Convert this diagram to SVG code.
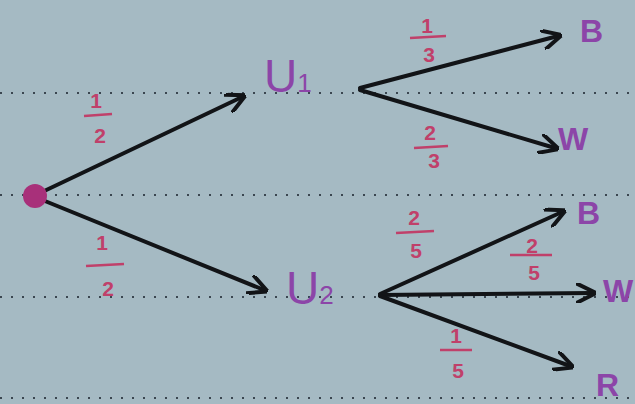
<svg xmlns="http://www.w3.org/2000/svg" width="635" height="404" viewBox="0 0 635 404">
<style>
.dot{stroke:#3a4650;stroke-width:2.2;stroke-dasharray:2 9;}
.br{stroke:#121417;stroke-width:4;fill:none;stroke-linecap:round;}
.fr{fill:#c0406a;font-family:"Liberation Sans",sans-serif;font-size:21px;font-weight:bold;text-anchor:middle;}
.bar{stroke:#c0406a;stroke-width:2.5;}
.lt{fill:#8c45a8;font-family:"Liberation Sans",sans-serif;font-size:32px;font-weight:bold;}
.node{fill:#8c45a8;font-family:"Liberation Sans",sans-serif;font-size:46px;}
</style>
<defs>
<marker id="ah" viewBox="0 0 10 10" refX="8" refY="5" markerWidth="5" markerHeight="5" orient="auto" markerUnits="strokeWidth">
<path d="M0,0 L10,5 L0,10" fill="none" stroke="#121417" stroke-width="2"/>
</marker>
</defs>
<rect width="635" height="404" fill="#a5bac3"/>
<g id="rules">
<line class="dot" x1="0" y1="93" x2="635" y2="93"/>
<line class="dot" x1="0" y1="195" x2="635" y2="195"/>
<line class="dot" x1="0" y1="297" x2="635" y2="297"/>
<line class="dot" x1="0" y1="398" x2="635" y2="398"/>
</g>
<g id="connectors">
<line class="br" x1="40" y1="193" x2="242" y2="97" marker-end="url(#ah)"/>
<line class="br" x1="40" y1="199" x2="264" y2="290" marker-end="url(#ah)"/>
<line class="br" x1="360" y1="88" x2="558" y2="36" marker-end="url(#ah)"/>
<line class="br" x1="360" y1="90" x2="555" y2="148" marker-end="url(#ah)"/>
<line class="br" x1="380" y1="294" x2="562" y2="212" marker-end="url(#ah)"/>
<line class="br" x1="380" y1="295" x2="592" y2="293" marker-end="url(#ah)"/>
<line class="br" x1="380" y1="296" x2="570" y2="366" marker-end="url(#ah)"/>
</g>
<g id="root"><circle cx="35" cy="196" r="12" fill="#a8307a"/></g>
<g id="U1"><text class="node" x="264" y="92">U<tspan font-size="26">1</tspan></text></g>
<g id="U2"><text class="node" x="286" y="304">U<tspan font-size="26">2</tspan></text></g>
<g id="B1"><text class="lt" x="580" y="42">B</text></g>
<g id="W1"><text class="lt" x="558" y="150">W</text></g>
<g id="B2"><text class="lt" x="577" y="224">B</text></g>
<g id="W2"><text class="lt" x="603" y="302" font-size="26">W</text></g>
<g id="R"><text class="lt" x="596" y="396">R</text></g>
<g id="labels">
<text class="fr" x="96" y="108">1</text><line class="bar" x1="84" y1="116" x2="112" y2="114"/><text class="fr" x="100" y="143">2</text>
<text class="fr" x="102" y="250">1</text><line class="bar" x1="86" y1="266" x2="124" y2="264"/><text class="fr" x="108" y="296">2</text>
<text class="fr" x="427" y="33">1</text><line class="bar" x1="410" y1="38" x2="446" y2="36"/><text class="fr" x="429" y="62">3</text>
<text class="fr" x="430" y="140">2</text><line class="bar" x1="414" y1="148" x2="448" y2="146"/><text class="fr" x="434" y="168">3</text>
<text class="fr" x="414" y="225">2</text><line class="bar" x1="396" y1="233" x2="434" y2="231"/><text class="fr" x="416" y="258">5</text>
<text class="fr" x="532" y="253">2</text><line class="bar" x1="510" y1="255" x2="552" y2="255"/><text class="fr" x="534" y="280">5</text>
<text class="fr" x="456" y="343">1</text><line class="bar" x1="440" y1="350" x2="472" y2="350"/><text class="fr" x="458" y="378">5</text>
</g>
</svg>
